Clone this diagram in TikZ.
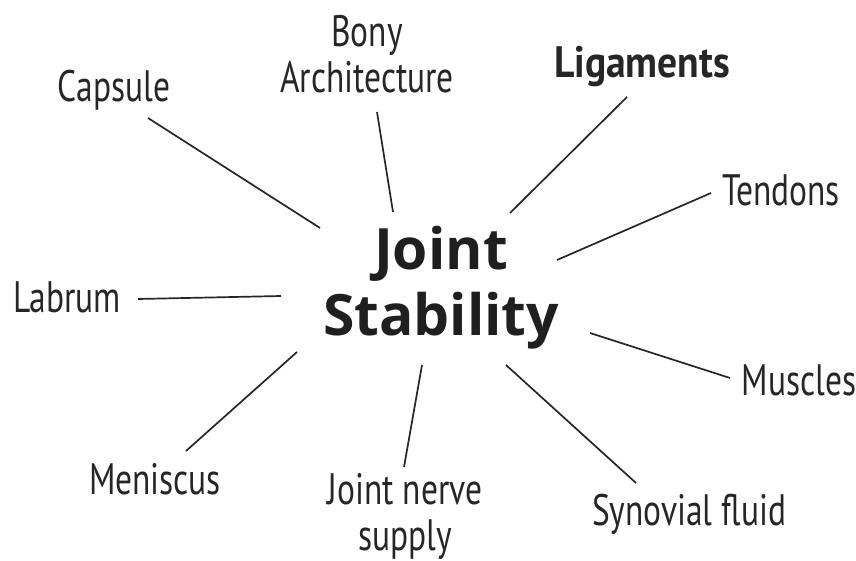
\documentclass[tikz,border=0pt]{standalone}
\usepackage{fontspec}
\setmainfont{Open Sans}
\newfontfamily\labelfont[FakeStretch=0.76]{PT Sans}
\newfontfamily\labelbold[FakeStretch=0.90]{PT Sans Bold}
\newfontfamily\hubfont{Open Sans Bold}
\begin{document}
\begin{tikzpicture}[x=1pt,y=-1pt,
  spoke/.style={line width=1.7pt, draw=black!85},
  factor/.style={font=\labelfont\fontsize{44}{46}\selectfont, text=black!85, align=center, inner sep=0pt},
  hub/.style={font=\hubfont\fontsize{57}{66}\selectfont, text=black!88, align=center, inner sep=0pt}]
  \useasboundingbox (0,0) rectangle (856,561);

  % central topic
  \node[hub] (js) at (441,288) {Joint\\Stability};

  % contributing factors
  \node[factor] (cap) at (114,90) {Capsule};
  \node[factor] (bony) at (367,54) {Bony\\Architecture};
  \node[factor, font=\labelbold\fontsize{44}{46}\selectfont] (lig) at (642,67) {Ligaments};
  \node[factor] (ten) at (781,190) {Tendons};
  \node[factor] (lab) at (67,297) {Labrum};
  \node[factor] (mus) at (799,380) {Muscles};
  \node[factor] (men) at (155,479) {Meniscus};
  \node[factor] (jns) at (405,516) {Joint nerve\\supply};
  \node[factor] (syn) at (689,514) {Synovial fluid};

  % spoke end points
  \coordinate (capA) at (148,118); \coordinate (capB) at (320,228);
  \coordinate (bonA) at (377,112); \coordinate (bonB) at (393,212);
  \coordinate (ligA) at (627,97);  \coordinate (ligB) at (510,213);
  \coordinate (tenA) at (711,193); \coordinate (tenB) at (557,260);
  \coordinate (labA) at (138,299); \coordinate (labB) at (281,296);
  \coordinate (musA) at (730,378); \coordinate (musB) at (590,333);
  \coordinate (menA) at (186,451); \coordinate (menB) at (297,352);
  \coordinate (jnsA) at (404,467); \coordinate (jnsB) at (422,365);
  \coordinate (synA) at (636,483); \coordinate (synB) at (506,365);

  \draw[spoke] (capA) -- (capB);
  \draw[spoke] (bonA) -- (bonB);
  \draw[spoke] (ligA) -- (ligB);
  \draw[spoke] (tenA) -- (tenB);
  \draw[spoke] (labA) -- (labB);
  \draw[spoke] (musA) -- (musB);
  \draw[spoke] (menA) -- (menB);
  \draw[spoke] (jnsA) -- (jnsB);
  \draw[spoke] (synA) -- (synB);
\end{tikzpicture}
\end{document}
